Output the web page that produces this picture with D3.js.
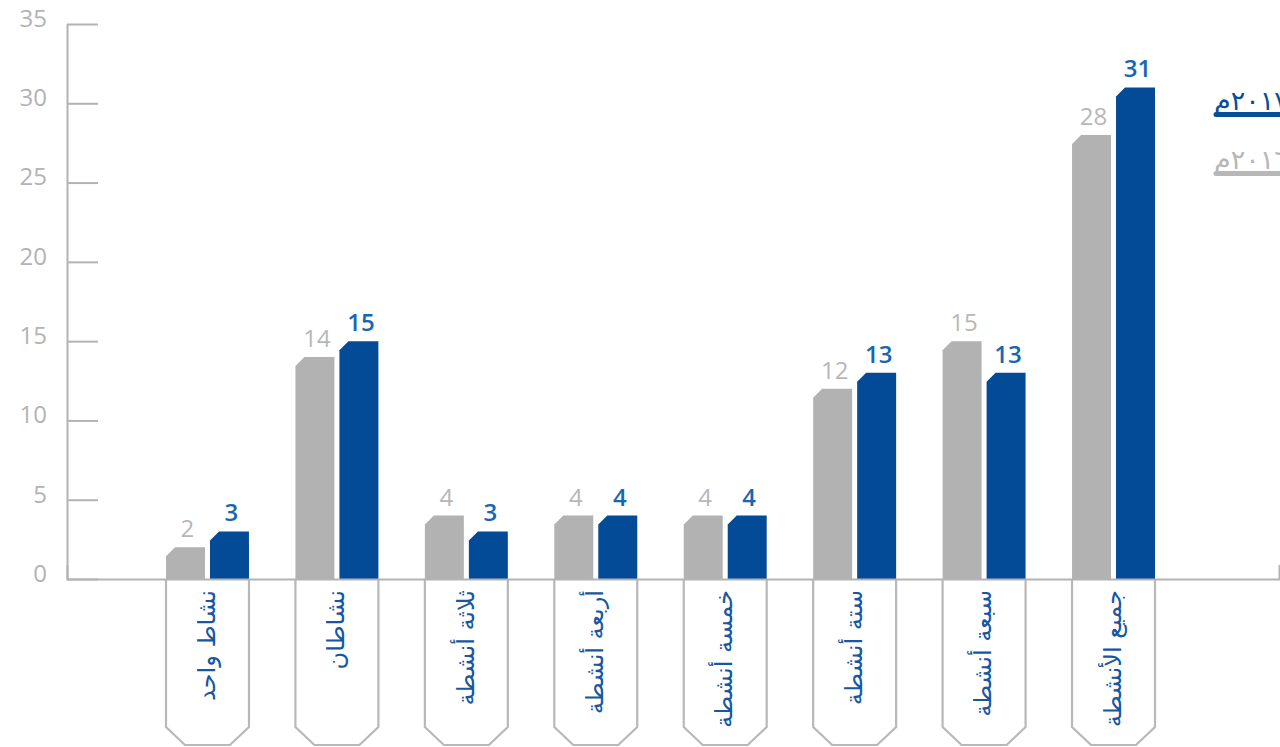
<!DOCTYPE html>
<html>
  <head>
    <meta charset="UTF-8">
    <style>
      body {
        margin: 0;
        background: white;
        font-family: 'Open Sans', sans-serif;
      }

      .tick text {
        font-size: 24px;
        fill: #b3b3b3;
      }

      .cat-label {
        font-family: 'DejaVu Sans', sans-serif;
        font-size: 24px;
        fill: #1557a3;
      }
    </style>
    <script src="https://d3js.org/d3.v7.min.js"></script>
  </head>

  <body>
    <svg id="chart"></svg>

    <script type="text/javascript">
      const categories = ['نشاط واحد', 'نشاطان', 'ثلاثة أنشطة', 'أربعة أنشطة',
        'خمسة أنشطة', 'ستة أنشطة', 'سبعة أنشطة', 'جميع الأنشطة']
      const values2016 = [2, 14, 4, 4, 4, 12, 15, 28]
      const values2017 = [3, 15, 3, 4, 4, 13, 13, 31]
      const seriesNames = ['٢٠١٦م', '٢٠١٧م']
      const yTicks = [0, 5, 10, 15, 20, 25, 30, 35]

      const width = 1280
      const height = 747
      const baseY = 579

      const colors = {
        bar: ['#b2b2b2', '#034b96'],
        label: ['#b7b7b7', '#1767b0'],
        axis: '#b3b3b3'
      }

      let svg = d3.select('#chart')
        .attr('width', width)
        .attr('height', height)

      let y = d3.scaleLinear()
        .domain([0, 35])
        .range([baseY, 24])

      let x = d3.scaleBand()
        .domain(categories)
        .range([166, 1155])
        .paddingInner(0.359)
        .paddingOuter(0)

      let xSub = d3.scaleBand()
        .domain(seriesNames)
        .range([0, x.bandwidth()])
        .paddingInner(0.114)

      // category boxes under the axis
      let boxH = 166
      let cut = 18
      let boxes = svg.append('g')
      categories.forEach(c => {
        let x0 = x(c)
        let x1 = x(c) + x.bandwidth()
        boxes.append('path')
          .attr('d', `M${x0},${baseY} V${baseY + boxH - cut} L${x0 + cut + 1},${baseY + boxH} H${x1 - cut - 1} L${x1},${baseY + boxH - cut} V${baseY}`)
          .attr('fill', 'none')
          .attr('stroke', '#b8b8b8')
          .attr('stroke-width', 2.2)

        boxes.append('text')
          .attr('class', 'cat-label')
          .attr('transform', `translate(${x0 + x.bandwidth() / 2}, ${baseY + 11}) rotate(-90)`)
          .attr('text-anchor', 'end')
          .attr('dy', '0.3em')
          .text(c)
      })

      // bars with chamfered top-left corner
      let series = [values2016, values2017]
      let c = 9
      let bars = svg.append('g')
      series.forEach((vals, si) => {
        categories.forEach((cat, i) => {
          let bx = x(cat) + xSub(seriesNames[si])
          let bw = xSub.bandwidth()
          let top = y(vals[i])
          bars.append('path')
            .attr('d', `M${bx},${baseY} V${top + c} L${bx + c},${top} H${bx + bw} V${baseY} Z`)
            .attr('fill', colors.bar[si])

          bars.append('text')
            .attr('x', bx + bw / 2 + 2)
            .attr('y', top - 10)
            .attr('text-anchor', 'middle')
            .style('font-size', '24px')
            .style('font-weight', si == 1 ? 600 : 400)
            .attr('fill', colors.label[si])
            .text(vals[i])
        })
      })

      // y axis
      let axisY = d3.axisLeft(y)
        .tickValues(yTicks)
        .tickSize(-31)
        .tickSizeOuter(0)
        .tickPadding(20)

      let gy = svg.append('g')
        .attr('transform', 'translate(67, 0)')
        .call(axisY)
      gy.selectAll('line, path').attr('stroke', colors.axis).attr('stroke-width', 2)
      gy.selectAll('text')
        .attr('dy', '0.1em')
        .style('font-family', "'Open Sans', sans-serif")

      // x baseline
      let xLine = d3.scaleLinear().domain([0, 1]).range([67, 1279])
      let gx = svg.append('g')
        .attr('transform', `translate(0, ${baseY})`)
        .call(d3.axisBottom(xLine).tickValues([]).tickSizeOuter(-14))
      gx.select('.domain').attr('stroke', colors.axis).attr('stroke-width', 2)

      // legend (cut at the right edge, as in the source)
      let legend = [
        {name: seriesNames[1], color: '#084d99', y: 110},
        {name: seriesNames[0], color: '#b7b7b7', y: 169}
      ]
      let lg = svg.append('g')
      legend.forEach(d => {
        lg.append('text')
          .attr('x', 1214)
          .attr('y', d.y)
          .style('font-family', "'DejaVu Sans', sans-serif")
          .style('font-size', '27px')
          .attr('fill', d.color)
          .text(d.name)
        lg.append('line')
          .attr('x1', 1216)
          .attr('x2', 1290)
          .attr('y1', d.y + 4.5)
          .attr('y2', d.y + 4.5)
          .attr('stroke', d.color)
          .attr('stroke-width', 5)
          .attr('stroke-linecap', 'round')
      })
    </script>
  </body>
</html>
